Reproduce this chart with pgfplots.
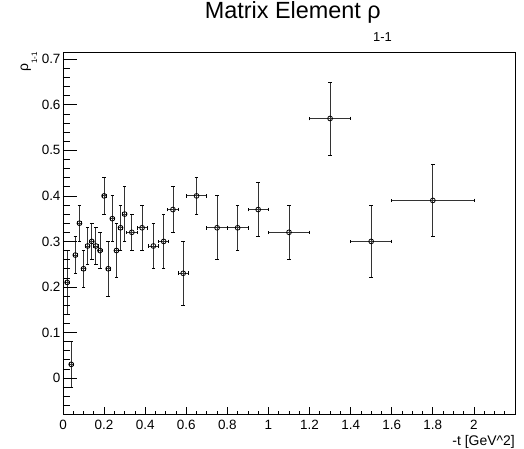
\documentclass[border=0pt]{standalone}
\usepackage{pgfplots}
\pgfplotsset{compat=1.18}
\usepackage{fontspec}
\setmainfont{Liberation Sans}
\pgfplotstableread{
x      y     ex     ey
0.02   0.21  0.01   0.07
0.04   0.03  0.01   0.05
0.06   0.27  0.01   0.04
0.08   0.34  0.01   0.04
0.10   0.24  0.01   0.04
0.12   0.29  0.01   0.04
0.14   0.30  0.01   0.04
0.16   0.29  0.01   0.04
0.18   0.28  0.01   0.04
0.20   0.40  0.01   0.04
0.22   0.24  0.01   0.06
0.24   0.35  0.01   0.05
0.26   0.28  0.01   0.06
0.28   0.33  0.01   0.05
0.30   0.36  0.01   0.06
0.335  0.32  0.025  0.04
0.385  0.33  0.025  0.05
0.44   0.29  0.025  0.05
0.49   0.30  0.025  0.06
0.535  0.37  0.025  0.05
0.585  0.23  0.025  0.07
0.65   0.40  0.05   0.04
0.75   0.33  0.05   0.07
0.85   0.33  0.05   0.05
0.95   0.37  0.05   0.06
1.10   0.32  0.10   0.06
1.30   0.57  0.10   0.08
1.50   0.30  0.10   0.08
1.80   0.39  0.20   0.08
}\datatable
\begin{document}
\begin{tikzpicture}
\begin{axis}[
  at={(0,0)}, anchor=south west,
  scale only axis, width=452bp, height=362bp,
  xmin=0, xmax=2.2, ymin=-0.079, ymax=0.716,
  xtick={0,0.2,...,2.01},
  minor xtick={0,0.05,...,2.21},
  ytick=\empty,
  xtick pos=bottom,
  tick align=inside,
  major tick length=7bp, minor tick length=3.5bp,
  every tick/.style={black, line width=0.7bp},
  axis line style={line width=0.8bp},
  /pgf/number format/assume math mode=true,
  ticklabel style={font=\fontsize{13.5}{15}\selectfont},
  xticklabel style={yshift=-3bp},
]
\addplot[only marks, black, mark=o, mark size=2.4bp,
  mark options={line width=0.8bp},
  error bars/.cd, x dir=both, x explicit, y dir=both, y explicit,
  error bar style={line width=0.8bp, black!80},
  error mark options={rotate=90, mark size=1.8bp, line width=0.8bp, black}]
  table[x=x, y=y, x error=ex, y error=ey]{\datatable};
\end{axis}
\begin{axis}[
  at={(0,0)}, anchor=south west,
  scale only axis, width=452bp, height=362bp,
  xmin=0, xmax=2.2, ymin=-0.079, ymax=0.716,
  xtick=\empty,
  ytick distance=0.1, minor y tick num=4,
  ytick pos=left,
  tick align=inside,
  major tick length=14bp, minor tick length=7bp,
  every tick/.style={black, line width=0.7bp},
  axis line style={draw=none},
  /pgf/number format/assume math mode=true,
  ticklabel style={font=\fontsize{13.5}{15}\selectfont},
  yticklabel style={xshift=1bp},
]
\end{axis}
\node[anchor=base east, inner sep=0, font=\fontsize{23.5}{25}\selectfont] at (318bp,395.5bp) {Matrix Element ρ};
\node[anchor=base west, inner sep=0, font=\fontsize{13}{14}\selectfont] at (310bp,372bp) {1-1};
\node[anchor=base east, inner sep=0, rotate=90] at (-35bp,362bp)
  {\fontsize{14}{15}\selectfont ρ\raisebox{-9bp}{\fontsize{8}{9}\selectfont 1-1}};
\node[anchor=base east, inner sep=0, font=\fontsize{14}{15}\selectfont] at (452bp,-31bp) {-t [GeV\^{}2]};
\pgfresetboundingbox
\path (-63bp,-35bp) rectangle (461bp,414bp);
\end{tikzpicture}
\end{document}
